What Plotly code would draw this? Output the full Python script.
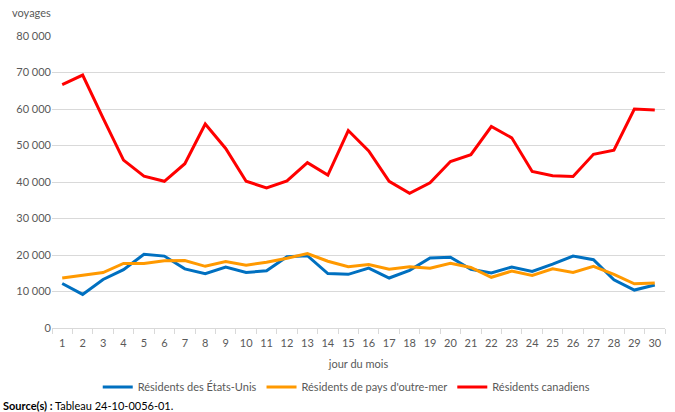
import plotly.graph_objects as go

days = [str(d) for d in range(1, 31)]
us_residents = [12200, 9200, 13300, 16000, 20200, 19700, 16200, 14900, 16700, 15200,
                15700, 19500, 19800, 14900, 14700, 16400, 13700, 15800, 19200, 19400,
                16100, 15100, 16700, 15500, 17500, 19700, 18700, 13200, 10400, 11800]
overseas_residents = [13700, 14500, 15200, 17700, 17700, 18400, 18500, 16900, 18200, 17200,
                      18000, 19100, 20400, 18300, 16800, 17400, 16100, 16800, 16400, 17700,
                      16600, 13900, 15600, 14400, 16200, 15200, 16900, 14700, 12100, 12300]
canadian_residents = [66700, 69300, 57500, 46000, 41600, 40200, 45000, 55900, 49200, 40200,
                      38400, 40300, 45300, 41900, 54100, 48500, 40200, 36900, 39800, 45600,
                      47500, 55200, 52100, 42900, 41700, 41500, 47600, 48700, 60000, 59700]
y_ticks = [0, 10000, 20000, 30000, 40000, 50000, 60000, 70000, 80000]
y_labels = ["0", "10 000", "20 000", "30 000", "40 000", "50 000", "60 000", "70 000", "80 000"]

FONT = "Lato, Open Sans, sans-serif"
GREY = "#595959"
PLOT_H = 412 - 36 - 84

fig = go.Figure()
series = [
    ("Résidents des États-Unis", us_residents, "#0070C0"),
    ("Résidents de pays d'outre-mer", overseas_residents, "#FF9900"),
    ("Résidents canadiens", canadian_residents, "#FF0000"),
]
for name, vals, col in series:
    fig.add_trace(go.Scatter(x=days, y=vals, name=name, mode="lines",
                             line=dict(color=col, width=3)))

fig.update_layout(
    width=675, height=412,
    margin=dict(l=52, r=10, t=36, b=84, autoexpand=False),
    paper_bgcolor="white", plot_bgcolor="white",
    font=dict(family=FONT, size=11, color=GREY),
    showlegend=True,
    legend=dict(orientation="h", x=0.48, xanchor="center", y=-59 / PLOT_H, yanchor="middle",
                font=dict(size=11, color=GREY), itemwidth=30, tracegroupgap=0),
    xaxis=dict(type="category", range=[-0.5, 29.5], tickson="boundaries",
               ticks="outside", ticklen=5, tickcolor="#d9d9d9", tickangle=0,
               ticklabelstandoff=5,
               showline=True, linecolor="#d9d9d9", linewidth=1, automargin=False,
               showgrid=False, tickfont=dict(size=11, color=GREY),
               title=dict(text="jour du mois", font=dict(size=11, color=GREY), standoff=12)),
    yaxis=dict(range=[0, 80000], tickvals=y_ticks, ticktext=y_labels, automargin=False,
               showgrid=True, gridcolor="#d9d9d9", gridwidth=1, zeroline=False,
               ticks="", tickfont=dict(size=11, color=GREY)),
    annotations=[
        dict(text="voyages", xref="paper", yref="paper", x=-0.068, y=1.0, yshift=24,
             xanchor="left", yanchor="middle", showarrow=False,
             font=dict(size=11, color=GREY)),
        dict(text="<b>Source(s) :</b> Tableau 24-10-0056-01.", xref="paper", yref="paper",
             x=-0.083, y=0, yshift=-77, xanchor="left", yanchor="middle", showarrow=False,
             font=dict(size=11, color="#000000")),
    ],
)

fig.write_html("out.html")
